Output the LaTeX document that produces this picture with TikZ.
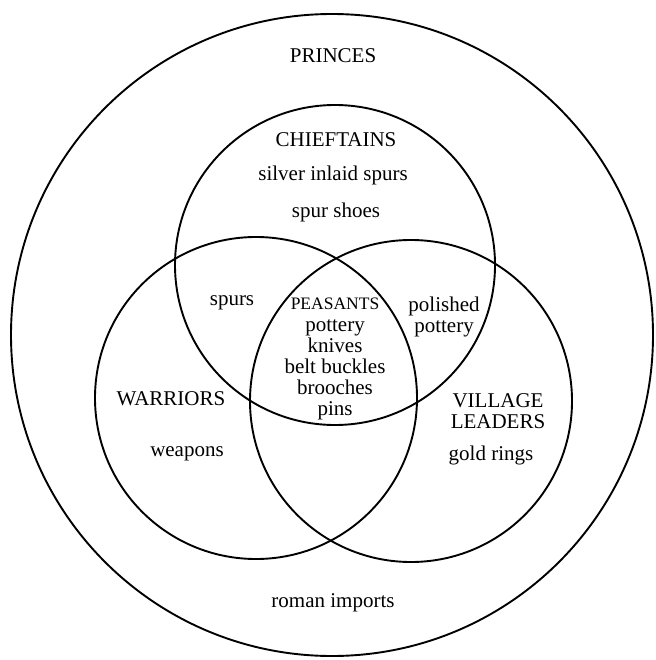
\documentclass[tikz,border=0pt]{standalone}
\usepackage{fontspec}
\setmainfont{Liberation Serif}
\begin{document}
\begin{tikzpicture}[x=1pt,y=-1pt,
  ring/.style={circle,draw,line width=1.9pt,inner sep=0pt},
  lbl/.style={font=\fontsize{21}{21}\selectfont,inner sep=0pt,align=center},
  small/.style={font=\fontsize{17.5}{21}\selectfont,inner sep=0pt}]
\useasboundingbox (0,0) rectangle (655,660);
\node[ring,minimum size=642pt] (princes) at (332,335) {};
\node[ring,minimum size=320pt] (chief) at (335,265) {};
\node[ring,minimum size=322pt] (warr) at (256,398) {};
\node[ring,minimum size=322pt] (vill) at (411,401) {};
\node[lbl] (tprinces) at (333,56) {PRINCES};
\node[lbl] (tchief) at (336,140) {CHIEFTAINS};
\node[lbl] (tsilver) at (333,175) {silver inlaid spurs};
\node[lbl] (tspurshoes) at (336,212) {spur shoes};
\node[lbl] (tspurs) at (232,303) {spurs};
\node[small] (tpeas) at (335,304) {PEASANTS};
\node[lbl,anchor=north] (tcore) at (335,319) {pottery\\knives\\belt buckles\\brooches\\pins};
\node[lbl] (tpolished) at (444,316.5) {polished\\pottery};
\node[lbl] (twarr) at (171,399) {WARRIORS};
\node[lbl] (tweapons) at (187,454) {weapons};
\node[lbl] (tvill) at (498,411) {VILLAGE\\LEADERS};
\node[lbl] (tgold) at (491,455) {gold rings};
\node[lbl] (troman) at (333,603) {roman imports};
\end{tikzpicture}
\end{document}
